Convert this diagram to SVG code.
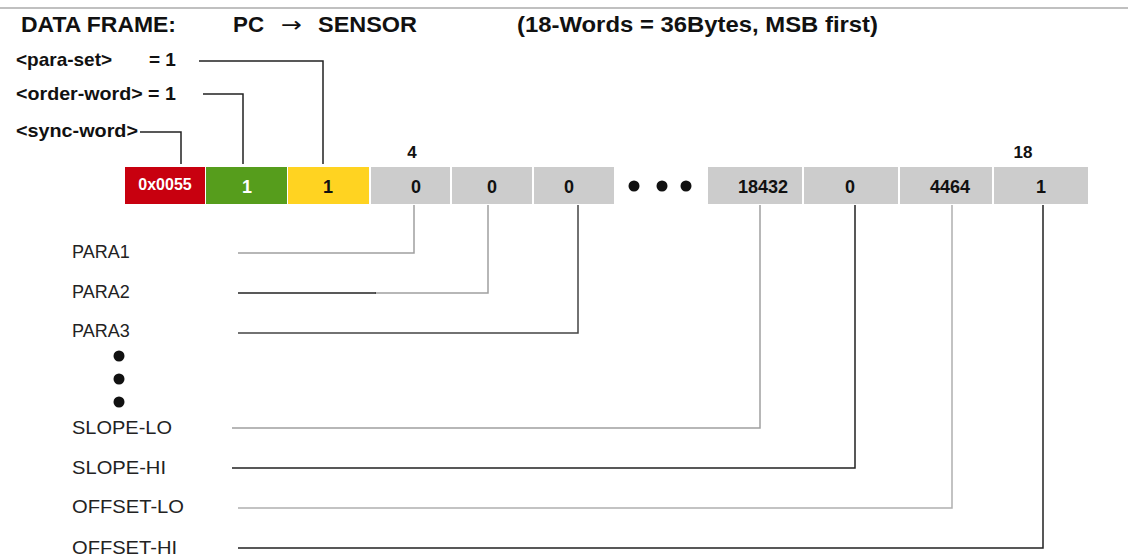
<svg xmlns="http://www.w3.org/2000/svg" width="1128" height="559" viewBox="0 0 1128 559">
<style>
.t{font-family:"Liberation Sans",Arial,sans-serif;font-weight:bold;fill:#111}
.h{font-size:22px}
.s{font-size:19px}
.b{font-size:18px;text-anchor:middle}
.n{font-size:16px;text-anchor:middle}
.l{font-family:"Liberation Sans",Arial,sans-serif;font-size:18px;fill:#222}
.c{fill:none;stroke-width:1.5}
.k{stroke:#222}
.g{stroke:#a0a0a0}
.box{fill:#cccccc}
</style>
<rect width="1128" height="559" fill="#fff"/>
<line x1="0" y1="8" x2="1128" y2="8" stroke="#c0c0c0" stroke-width="2"/>
<g id="title">
<text class="t h" x="21" y="32" textLength="155" lengthAdjust="spacingAndGlyphs">DATA FRAME:</text>
<text class="t h" x="233" y="32" textLength="31" lengthAdjust="spacingAndGlyphs">PC</text>
<text x="281" y="32" font-family="DejaVu Sans, sans-serif" font-size="21" fill="#111" textLength="21" lengthAdjust="spacingAndGlyphs">→</text>
<text class="t h" x="318" y="32" textLength="99" lengthAdjust="spacingAndGlyphs">SENSOR</text>
<text class="t h" x="517" y="32" textLength="361" lengthAdjust="spacingAndGlyphs">(18-Words = 36Bytes, MSB first)</text>
</g>
<g id="header-labels">
<text class="t s" y="66"><tspan x="16">&lt;para-set&gt;</tspan><tspan x="149">= 1</tspan></text>
<text class="t s" x="16" y="100" textLength="160" lengthAdjust="spacingAndGlyphs">&lt;order-word&gt; = 1</text>
<text class="t s" x="16" y="137" textLength="122" lengthAdjust="spacingAndGlyphs">&lt;sync-word&gt;</text>
</g>
<g id="frame">
<rect x="125" y="167" width="80" height="37" fill="#c8000f"/>
<text class="t n" x="165" y="190" style="fill:#fff">0x0055</text>
<rect x="206" y="167" width="81" height="37" fill="#569d1c"/>
<text class="t b" x="247" y="193" style="fill:#fff">1</text>
<rect x="288" y="167" width="81" height="37" fill="#ffd321"/>
<text class="t b" x="328" y="193">1</text>
<rect class="box" x="371" y="167" width="79" height="37"/>
<text class="t b" x="416" y="193">0</text>
<rect class="box" x="452" y="167" width="80" height="37"/>
<text class="t b" x="492" y="193">0</text>
<rect class="box" x="534" y="167" width="80" height="37"/>
<text class="t b" x="569" y="193">0</text>
<circle cx="634" cy="186" r="5.5" fill="#111"/>
<circle cx="662" cy="186" r="5.5" fill="#111"/>
<circle cx="686" cy="186" r="5.5" fill="#111"/>
<rect class="box" x="708" y="167" width="94" height="37"/>
<text class="t b" x="763" y="193">18432</text>
<rect class="box" x="804" y="167" width="94" height="37"/>
<text class="t b" x="850" y="193">0</text>
<rect class="box" x="900" y="167" width="92" height="37"/>
<text class="t b" x="950" y="193">4464</text>
<rect class="box" x="994" y="167" width="94" height="37"/>
<text class="t b" x="1041" y="193">1</text>
<text class="t n" x="412" y="158" style="font-size:17px">4</text>
<text class="t n" x="1023" y="158" style="font-size:17px">18</text>
</g>
<g id="param-labels">
<text class="l" x="72" y="258">PARA1</text>
<text class="l" x="72" y="298">PARA2</text>
<text class="l" x="72" y="337">PARA3</text>
<circle cx="119" cy="356" r="5.5" fill="#111"/>
<circle cx="119" cy="379" r="5.5" fill="#111"/>
<circle cx="119" cy="402" r="5.5" fill="#111"/>
<text class="l" x="72" y="434" textLength="100" lengthAdjust="spacingAndGlyphs">SLOPE-LO</text>
<text class="l" x="72" y="474" textLength="94" lengthAdjust="spacingAndGlyphs">SLOPE-HI</text>
<text class="l" x="72" y="513" textLength="112" lengthAdjust="spacingAndGlyphs">OFFSET-LO</text>
<text class="l" x="72" y="554" textLength="105" lengthAdjust="spacingAndGlyphs">OFFSET-HI</text>
</g>
<g id="connectors">
<polyline class="c k" points="199,61 323,61 323,164"/>
<polyline class="c k" points="203,94 243,94 243,164"/>
<polyline class="c k" points="140,132 181,132 181,164"/>
<polyline class="c g" points="238,253 414,253 414,205"/>
<polyline class="c g" points="375,293 488,293 488,205"/>
<line class="c k" x1="238" y1="293" x2="376" y2="293"/>
<polyline class="c" stroke="#444" points="238,333 578,333 578,205"/>
<polyline class="c g" points="232,428 760,428 760,205"/>
<polyline class="c k" points="232,468 855,468 855,205"/>
<polyline class="c" stroke="#b0b0b0" points="238,508 952,508 952,205"/>
<polyline class="c k" points="238,548 1043,548 1043,205"/>
</g>
</svg>
